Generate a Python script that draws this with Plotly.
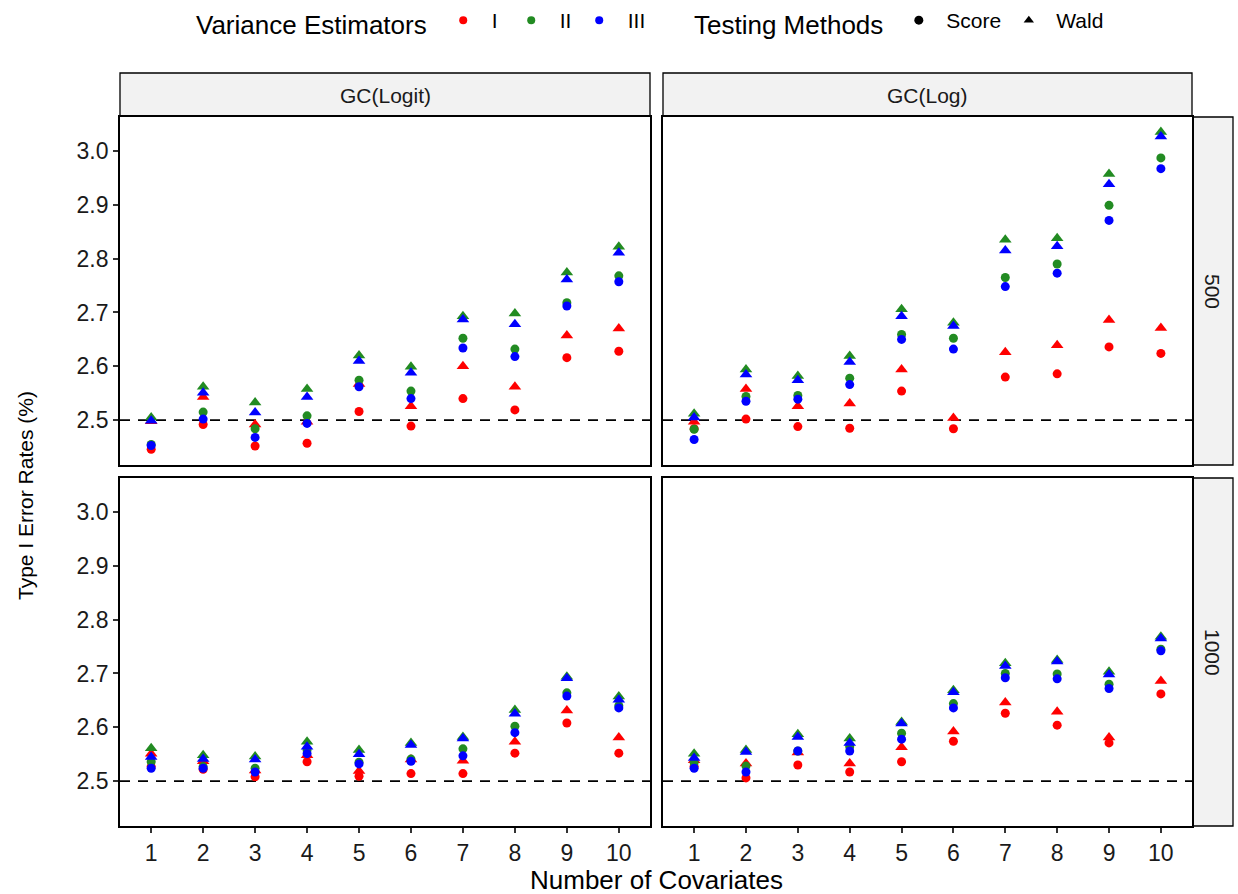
import plotly.graph_objects as go

covariates = list(range(1, 11))
tick_y = [2.5, 2.6, 2.7, 2.8, 2.9, 3.0]
tick_y_labels = ["2.5", "2.6", "2.7", "2.8", "2.9", "3.0"]

# GC(Logit), n = 500
logit500_score_I = [2.446, 2.492, 2.452, 2.457, 2.516, 2.489, 2.540, 2.519, 2.616, 2.628]
logit500_score_II = [2.455, 2.515, 2.484, 2.508, 2.574, 2.554, 2.652, 2.632, 2.718, 2.768]
logit500_score_III = [2.453, 2.502, 2.468, 2.494, 2.562, 2.540, 2.634, 2.618, 2.712, 2.757]
logit500_wald_I = [2.498, 2.543, 2.492, 2.497, 2.567, 2.526, 2.600, 2.562, 2.657, 2.670]
logit500_wald_II = [2.505, 2.562, 2.533, 2.558, 2.620, 2.599, 2.693, 2.698, 2.774, 2.822]
logit500_wald_III = [2.499, 2.551, 2.514, 2.543, 2.610, 2.588, 2.687, 2.678, 2.761, 2.811]

# GC(Log), n = 500
log500_score_I = [2.484, 2.502, 2.488, 2.485, 2.554, 2.484, 2.580, 2.586, 2.636, 2.624]
log500_score_II = [2.483, 2.544, 2.546, 2.578, 2.659, 2.652, 2.765, 2.790, 2.899, 2.987]
log500_score_III = [2.464, 2.535, 2.539, 2.566, 2.650, 2.632, 2.748, 2.773, 2.871, 2.967]
log500_wald_I = [2.497, 2.558, 2.526, 2.531, 2.594, 2.504, 2.626, 2.639, 2.686, 2.671]
log500_wald_II = [2.512, 2.594, 2.582, 2.619, 2.706, 2.681, 2.835, 2.838, 2.957, 3.035]
log500_wald_III = [2.505, 2.585, 2.574, 2.608, 2.693, 2.675, 2.815, 2.823, 2.938, 3.027]

# GC(Logit), n = 1000
logit1000_score_I = [2.527, 2.522, 2.508, 2.536, 2.509, 2.514, 2.514, 2.552, 2.608, 2.552]
logit1000_score_II = [2.536, 2.527, 2.524, 2.558, 2.535, 2.541, 2.560, 2.602, 2.664, 2.640]
logit1000_score_III = [2.524, 2.524, 2.517, 2.551, 2.532, 2.537, 2.547, 2.590, 2.658, 2.636]
logit1000_wald_I = [2.551, 2.537, 2.520, 2.548, 2.519, 2.540, 2.538, 2.573, 2.631, 2.581]
logit1000_wald_II = [2.561, 2.548, 2.546, 2.573, 2.558, 2.571, 2.582, 2.632, 2.694, 2.657]
logit1000_wald_III = [2.545, 2.541, 2.540, 2.564, 2.550, 2.567, 2.579, 2.625, 2.691, 2.651]

# GC(Log), n = 1000
log1000_score_I = [2.527, 2.506, 2.530, 2.517, 2.536, 2.574, 2.626, 2.604, 2.571, 2.662]
log1000_score_II = [2.534, 2.528, 2.556, 2.564, 2.589, 2.644, 2.700, 2.699, 2.680, 2.745]
log1000_score_III = [2.524, 2.517, 2.556, 2.556, 2.578, 2.636, 2.692, 2.690, 2.672, 2.742]
log1000_wald_I = [2.539, 2.533, 2.553, 2.533, 2.563, 2.592, 2.646, 2.629, 2.581, 2.686]
log1000_wald_II = [2.551, 2.558, 2.587, 2.579, 2.610, 2.669, 2.719, 2.725, 2.703, 2.768]
log1000_wald_III = [2.543, 2.554, 2.582, 2.571, 2.607, 2.665, 2.714, 2.722, 2.698, 2.765]

estimators = ["I", "II", "III"]
colors = {"I": "#FF0000", "II": "#228B22", "III": "#0000FF"}
methods = ["Score", "Wald"]
symbols = {"Score": "circle", "Wald": "triangle-up"}
sizes = {"Score": 9, "Wald": 11}

panels = [
    ("x", "y", {"Score": [logit500_score_I, logit500_score_II, logit500_score_III],
                "Wald": [logit500_wald_I, logit500_wald_II, logit500_wald_III]}),
    ("x2", "y2", {"Score": [log500_score_I, log500_score_II, log500_score_III],
                  "Wald": [log500_wald_I, log500_wald_II, log500_wald_III]}),
    ("x3", "y3", {"Score": [logit1000_score_I, logit1000_score_II, logit1000_score_III],
                  "Wald": [logit1000_wald_I, logit1000_wald_II, logit1000_wald_III]}),
    ("x4", "y4", {"Score": [log1000_score_I, log1000_score_II, log1000_score_III],
                  "Wald": [log1000_wald_I, log1000_wald_II, log1000_wald_III]}),
]

W, H = 1238, 894
FONT = "Liberation Sans, Arial, sans-serif"

fig = go.Figure()
for xa, ya, data in panels:
    for i, est in enumerate(estimators):
        for m in methods:
            fig.add_trace(go.Scatter(
                x=covariates, y=data[m][i], mode="markers", xaxis=xa, yaxis=ya,
                marker=dict(color=colors[est], symbol=symbols[m], size=sizes[m], line=dict(width=0)),
                showlegend=False, hoverinfo="x+y"))

# legend traces
for est in estimators:
    fig.add_trace(go.Scatter(x=[None], y=[None], mode="markers", name=est,
                             marker=dict(color=colors[est], symbol="circle", size=8),
                             legend="legend"))
# invisible spacer entry so the last label is not clipped
fig.add_trace(go.Scatter(x=[None], y=[None], mode="markers", name=" ",
                         marker=dict(color="rgba(0,0,0,0)", size=1), legend="legend"))
for m in methods:
    fig.add_trace(go.Scatter(x=[None], y=[None], mode="markers", name=m,
                             marker=dict(color="black", symbol=symbols[m], size=9),
                             legend="legend2"))


def fx(px):
    return px / W


def fy(py):
    return (H - py) / H


xl = [fx(120), fx(650)]
xr = [fx(663), fx(1192)]
yt = [fy(465), fy(117)]
yb = [fy(826), fy(478)]

yr = [2.4167, 3.063]
xrng = [0.4, 10.6]

common_axis = dict(showline=True, linecolor="black", linewidth=1.8, mirror=True,
                   showgrid=False, zeroline=False,
                   tickfont=dict(family=FONT, size=23, color="#1a1a1a"),
                   ticklen=5, tickwidth=1.5, tickcolor="#333333")


def xaxis(dom, anchor, show):
    d = dict(common_axis, domain=dom, anchor=anchor, range=xrng,
             tickmode="array", tickvals=covariates, ticktext=[str(c) for c in covariates])
    if show:
        d.update(ticks="outside", showticklabels=True)
    else:
        d.update(ticks="", showticklabels=False)
    return d


def yaxis(dom, anchor, show):
    d = dict(common_axis, domain=dom, anchor=anchor, range=yr,
             tickmode="array", tickvals=tick_y, ticktext=tick_y_labels)
    if show:
        d.update(ticks="outside", showticklabels=True)
    else:
        d.update(ticks="", showticklabels=False)
    return d


fig.update_layout(
    xaxis=xaxis(xl, "y", False), yaxis=yaxis(yt, "x", True),
    xaxis2=xaxis(xr, "y2", False), yaxis2=yaxis(yt, "x2", False),
    xaxis3=xaxis(xl, "y3", True), yaxis3=yaxis(yb, "x3", True),
    xaxis4=xaxis(xr, "y4", True), yaxis4=yaxis(yb, "x4", False),
)

shapes = []
for xa, ya in [("x", "y"), ("x2", "y2"), ("x3", "y3"), ("x4", "y4")]:
    shapes.append(dict(type="line", xref=f"{xa} domain", yref=ya, x0=0, x1=1, y0=2.5, y1=2.5,
                       line=dict(color="black", width=1.8, dash="10px,8px"), layer="below"))

# strips
strip_style = dict(type="rect", xref="paper", yref="paper", fillcolor="#F2F2F2",
                   line=dict(color="black", width=1.3), layer="below")
shapes.append(dict(strip_style, x0=fx(120), x1=fx(650), y0=fy(116), y1=fy(73)))
shapes.append(dict(strip_style, x0=fx(663), x1=fx(1192), y0=fy(116), y1=fy(73)))
shapes.append(dict(strip_style, x0=fx(1193), x1=fx(1233), y0=fy(465), y1=fy(117)))
shapes.append(dict(strip_style, x0=fx(1193), x1=fx(1233), y0=fy(826), y1=fy(478)))

strip_font = dict(family=FONT, size=21, color="#1a1a1a")
ann_base = dict(xref="paper", yref="paper", showarrow=False, xanchor="center", yanchor="middle")
annotations = [
    dict(ann_base, text="GC(Logit)", x=fx(385), y=fy(95), font=strip_font),
    dict(ann_base, text="GC(Log)", x=fx(927.5), y=fy(95), font=strip_font),
    dict(ann_base, text="500", x=fx(1213), y=fy(291), font=strip_font, textangle=90),
    dict(ann_base, text="1000", x=fx(1213), y=fy(652), font=strip_font, textangle=90),
    dict(ann_base, text="Type I Error Rates (%)", x=fx(26), y=fy(496),
         font=dict(family=FONT, size=21, color="black"), textangle=-90),
    dict(ann_base, text="Number of Covariates", x=fx(656), y=fy(880),
         font=dict(family=FONT, size=26, color="black")),
]

fig.update_layout(
    width=W, height=H, margin=dict(l=0, r=0, t=0, b=0),
    plot_bgcolor="white", paper_bgcolor="white",
    shapes=shapes, annotations=annotations,
    legend=dict(orientation="h", x=fx(194), y=1, xanchor="left", yanchor="top",
                title=dict(text="Variance Estimators", side="left", font=dict(family=FONT, size=26, color="black")),
                font=dict(family=FONT, size=21, color="black"), itemwidth=47,
                entrywidth=6, entrywidthmode="pixels", bgcolor="rgba(0,0,0,0)"),
    legend2=dict(orientation="h", x=fx(692), y=1, xanchor="left", yanchor="top",
                 title=dict(text="Testing Methods", side="left", font=dict(family=FONT, size=26, color="black")),
                 font=dict(family=FONT, size=21, color="black"), itemwidth=45,
                 entrywidth=50, entrywidthmode="pixels", bgcolor="rgba(0,0,0,0)"),
)

fig.write_html("out.html", config={"displayModeBar": False},
               post_script="document.body.style.margin='0';document.body.style.padding='0';")
